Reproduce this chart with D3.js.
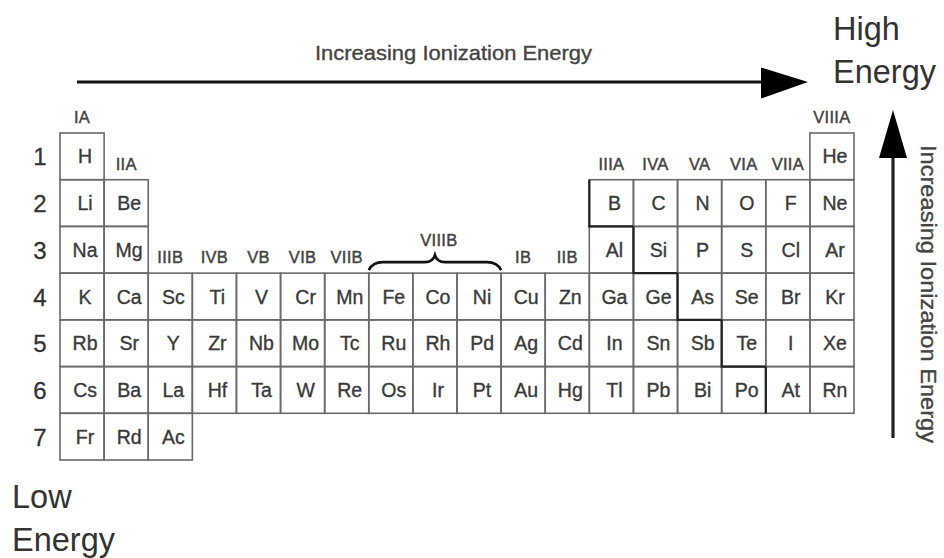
<!DOCTYPE html>
<html><head><meta charset="utf-8">
<script src="https://cdn.jsdelivr.net/npm/d3@7"></script>
<style>body{margin:0;background:#fff}svg{display:block}</style>
</head><body>
<svg id="c" width="944" height="558"></svg>
<script>
// ---- data ----
const groupCols = d3.range(1, 19);
const periods = [1, 2, 3, 4, 5, 6, 7];
const period1 = [["H",1],["He",18]];
const period2 = [["Li",1],["Be",2],["B",13],["C",14],["N",15],["O",16],["F",17],["Ne",18]];
const period3 = [["Na",1],["Mg",2],["Al",13],["Si",14],["P",15],["S",16],["Cl",17],["Ar",18]];
const period4 = ["K","Ca","Sc","Ti","V","Cr","Mn","Fe","Co","Ni","Cu","Zn","Ga","Ge","As","Se","Br","Kr"];
const period5 = ["Rb","Sr","Y","Zr","Nb","Mo","Tc","Ru","Rh","Pd","Ag","Cd","In","Sn","Sb","Te","I","Xe"];
const period6 = ["Cs","Ba","La","Hf","Ta","W","Re","Os","Ir","Pt","Au","Hg","Tl","Pb","Bi","Po","At","Rn"];
const period7 = ["Fr","Rd","Ac"];
// group labels: [label, column, period row the label sits above]
const groupLabels = [["IA",1,1],["IIA",2,2],["IIIB",3,4],["IVB",4,4],["VB",5,4],["VIB",6,4],["VIIB",7,4],
  ["IB",11,4],["IIB",12,4],["IIIA",13,2],["IVA",14,2],["VA",15,2],["VIA",16,2],["VIIA",17,2],["VIIIA",18,1]];
const viiibLabel = ["VIIIB", 8, 10, 4];
// metal / non-metal staircase: [period, column]
const staircase = [[2,13],[3,14],[4,15],[5,16],[6,17]];
const arrowTitle = "Increasing Ionization Energy";

// ---- build element list ----
const elements = [];
period1.forEach(([s,c]) => elements.push({s, c, p:1}));
period2.forEach(([s,c]) => elements.push({s, c, p:2}));
period3.forEach(([s,c]) => elements.push({s, c, p:3}));
period4.forEach((s,i) => elements.push({s, c:i+1, p:4}));
period5.forEach((s,i) => elements.push({s, c:i+1, p:5}));
period6.forEach((s,i) => elements.push({s, c:i+1, p:6}));
period7.forEach((s,i) => elements.push({s, c:i+1, p:7}));

const svg = d3.select("#c");
const x = d3.scaleBand().domain(groupCols).range([60, 854]);
const y = d3.scaleBand().domain(periods).range([133, 460]);
const bw = x.bandwidth(), bh = y.bandwidth();
const font = "'Liberation Sans', Arial, Helvetica, sans-serif";

// cells
const cells = svg.append("g");
cells.selectAll("rect").data(elements).join("rect")
  .attr("x", d => x(d.c)).attr("y", d => y(d.p))
  .attr("width", bw).attr("height", bh)
  .attr("fill", "none").attr("stroke", "#6a6a6a").attr("stroke-width", 1.6);
cells.selectAll("text").data(elements).join("text")
  .attr("x", d => x(d.c) + bw/2 + 3).attr("y", d => y(d.p) + bh/2 + 7)
  .attr("text-anchor", "middle").attr("font-family", font).attr("font-size", 19.5)
  .attr("fill", "#3a3a3a").attr("stroke","#3a3a3a").attr("stroke-width",0.35)
  .text(d => d.s);

// staircase
const st = d3.path();
staircase.forEach(([p,c], i) => {
  const x0 = x(c), y0 = y(p), y1 = y(p) + bh;
  st.moveTo(x0, y0); st.lineTo(x0, y1);
  if (i < staircase.length - 1) st.lineTo(x(staircase[i+1][1]), y1);
});
svg.append("path").attr("d", st.toString()).attr("fill","none")
  .attr("stroke","#222").attr("stroke-width",2.2);

// period numbers
svg.append("g").selectAll("text").data(periods).join("text")
  .attr("x", 40).attr("y", d => y(d) + bh/2 + 9)
  .attr("text-anchor","middle").attr("font-family", font).attr("font-size", 24)
  .attr("fill","#333").attr("stroke","#333").attr("stroke-width",0.3).text(d => d);

// group labels
svg.append("g").selectAll("text").data(groupLabels).join("text")
  .attr("x", d => x(d[1]) + bw/2).attr("y", d => y(d[2]) - 10)
  .attr("text-anchor","middle").attr("font-family", font).attr("font-size", 16.5)
  .attr("letter-spacing", 0.3).attr("fill","#444").attr("stroke","#444").attr("stroke-width",0.45)
  .text(d => d[0]);

// VIIIB with brace
const bx0 = x(viiibLabel[1]), bx1 = x(viiibLabel[2]) + bw, bmid = (bx0+bx1)/2;
const by = y(viiibLabel[3]);
svg.append("text").attr("x", bmid + 4).attr("y", by - 27)
  .attr("text-anchor","middle").attr("font-family", font).attr("font-size", 16.5)
  .attr("letter-spacing", 0.3).attr("fill","#444").attr("stroke","#444").attr("stroke-width",0.45)
  .text(viiibLabel[0]);
const br = d3.path();
br.moveTo(bx0, by - 3);
br.quadraticCurveTo(bx0 + 4, by - 11, bx0 + 14, by - 11);
br.lineTo(bmid - 10, by - 11);
br.quadraticCurveTo(bmid - 2, by - 11, bmid, by - 18);
br.quadraticCurveTo(bmid + 2, by - 11, bmid + 10, by - 11);
br.lineTo(bx1 - 14, by - 11);
br.quadraticCurveTo(bx1 - 4, by - 11, bx1, by - 3);
svg.append("path").attr("d", br.toString()).attr("fill","none")
  .attr("stroke","#111").attr("stroke-width",2.6);

// horizontal arrow
svg.append("line").attr("x1",77).attr("x2",765).attr("y1",82).attr("y2",82)
  .attr("stroke","#111").attr("stroke-width",3.2);
svg.append("path").attr("d","M761,67.5 L808,82 L761,98.5 Z").attr("fill","#000");
svg.append("text").attr("x",315).attr("y",60).attr("font-family",font).attr("font-size",21)
  .attr("textLength",277).attr("lengthAdjust","spacingAndGlyphs")
  .attr("fill","#444").attr("stroke","#444").attr("stroke-width",0.35).text(arrowTitle);

// vertical arrow
svg.append("line").attr("x1",893).attr("x2",893).attr("y1",155).attr("y2",438)
  .attr("stroke","#222").attr("stroke-width",3.2);
svg.append("path").attr("d","M893,110 L907,158 L879,158 Z").attr("fill","#000");
svg.append("text").attr("transform","translate(921,145) rotate(90)")
  .attr("font-family",font).attr("font-size",22)
  .attr("textLength",298).attr("lengthAdjust","spacingAndGlyphs")
  .attr("fill","#444").attr("stroke","#444").attr("stroke-width",0.35).text(arrowTitle);

// corner labels
const big = [["High",833,40],["Energy",833,83],["Low",12,508],["Energy",12,551]];
svg.append("g").selectAll("text").data(big).join("text")
  .attr("x", d => d[1]).attr("y", d => d[2])
  .attr("font-family", font).attr("font-size", 32.5).attr("fill","#333").text(d => d[0]);
</script>
</body></html>
